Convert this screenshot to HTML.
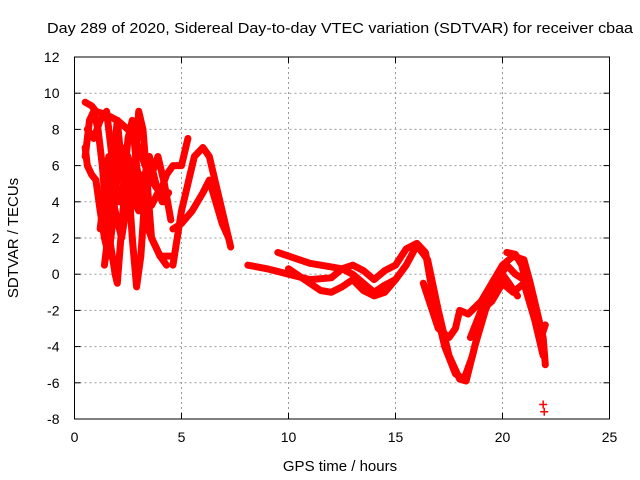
<!DOCTYPE html>
<html><head><meta charset="utf-8"><style>
body{margin:0;background:#fff;}
svg{display:block;font-family:"Liberation Sans",sans-serif;}
</style></head><body>
<svg id="chart" width="640" height="480">
<text x="340" y="33" font-size="15" text-anchor="middle" textLength="586" lengthAdjust="spacingAndGlyphs" fill="#000">Day 289 of 2020, Sidereal Day-to-day VTEC variation (SDTVAR) for receiver cbaa</text>
<text x="340" y="471" font-size="15" text-anchor="middle">GPS time / hours</text>
<text transform="translate(18,238) rotate(-90)" font-size="15" text-anchor="middle">SDTVAR / TECUs</text>
<g id="grid"></g><g id="ticks"></g><g id="marks"></g>
<rect x="74.5" y="57" width="535" height="362" fill="none" stroke="#000" stroke-width="1"/>
</svg>
<script>
const xTicks=[0,5,10,15,20,25];
const yTicks=[-8,-6,-4,-2,0,2,4,6,8,10,12];
const t1=[[0.5,9.5],[0.8,9.3],[1.0,9.0],[1.5,8.8],[2.0,8.5],[2.5,8.0],[3.0,7.0],[3.3,6.0],[3.7,5.0],[4.0,4.5],[4.3,5.5],[4.6,6.0],[5.0,6.0],[5.3,7.5]];
const t2=[[0.5,7.0],[0.6,6.0],[0.8,5.5],[1.0,5.2],[1.2,3.5],[1.4,2.0],[1.6,1.0],[1.8,3.0],[2.0,5.5],[2.2,7.0],[2.5,6.5],[2.8,5.0],[3.0,4.5],[3.3,3.0],[3.6,2.0],[4.0,1.0],[4.5,1.0]];
const t3=[[0.5,6.5],[0.7,8.5],[0.9,9.0],[1.1,8.0],[1.3,6.0],[1.5,3.0],[1.7,1.5],[1.9,0.0],[2.0,-0.5],[2.1,1.0],[2.3,4.0],[2.5,5.5],[2.7,2.0],[2.9,-0.7],[3.1,1.0],[3.3,4.5],[3.6,5.5],[3.9,6.5],[4.2,5.0],[4.5,3.0]];
const t4=[[1.4,0.5],[1.6,2.5],[1.8,6.0],[2.0,8.5],[2.2,6.0],[2.4,4.0],[2.6,3.5],[2.8,5.5],[3.0,9.0],[3.2,8.0],[3.4,5.0],[3.6,2.0],[3.8,1.5],[4.0,1.0],[4.3,0.5]];
const t4b=[[0.6,8.0],[0.9,7.5],[1.2,8.5],[1.5,9.0],[1.7,7.0],[1.9,5.0],[2.1,4.0],[2.3,5.0],[2.5,7.5],[2.7,8.5],[2.9,6.0],[3.1,4.5],[3.3,5.5],[3.5,6.5],[3.8,5.0],[4.1,4.0],[4.4,4.5]];
const t4c=[[1.2,2.5],[1.4,4.5],[1.6,6.5],[1.8,4.0],[2.0,3.0],[2.2,2.0],[2.4,3.5],[2.6,6.0],[2.8,4.0],[3.0,3.5],[3.2,5.5],[3.4,4.0],[3.6,3.8],[3.9,4.5],[4.2,4.0]];
const t5=[[4.6,0.5],[4.8,2.0],[5.0,3.5],[5.3,5.0],[5.6,6.5],[6.0,7.0],[6.3,6.5],[6.6,5.0],[6.9,3.5],[7.2,2.0]];
const t6=[[4.6,2.5],[5.0,2.8],[5.5,3.5],[6.0,4.5],[6.3,5.2],[6.6,4.0],[6.9,2.8],[7.2,2.0],[7.3,1.5]];
const t7=[[8.1,0.5],[9,0.3],[10,0.0],[11,-0.3],[12,-0.2],[12.5,0.3],[13,0.0],[13.5,-0.5],[14,-1.0],[14.5,-0.6],[15,-0.3]];
const t8=[[9.5,1.2],[10,1.0],[11,0.6],[12,0.4],[12.5,0.3],[13,0.5],[13.5,0.2],[14,-0.3],[14.5,0.2],[15,0.5],[15.5,1.4],[16,1.7],[16.4,1.2],[16.8,-1.5],[17.3,-4.0],[17.8,-5.5],[18.2,-5.8],[18.6,-4.5],[19.0,-2.5],[19.5,-0.8],[20.0,0.0],[20.3,-0.5],[20.7,-1.2]];
const t9=[[10,0.3],[11,-0.5],[11.5,-0.9],[12,-1.0],[12.5,-0.7],[13,-0.3],[13.5,-0.9],[14,-1.2],[14.5,-1.0],[15,-0.3],[15.5,0.5],[16,1.6],[16.5,0.8],[17,-2.0],[17.5,-4.5],[18,-5.8],[18.3,-5.9],[18.7,-4.0],[19.2,-2.0],[19.7,-0.5],[20.2,0.5],[20.6,0.0],[21.0,-0.3]];
const t10=[[16.3,-0.5],[17,-3],[17.5,-3.5],[17.8,-3.0],[18,-2.0],[18.4,-2.2],[19,-1.5],[19.5,-0.5],[20,0.5],[20.5,1.0],[21,0.8],[21.3,-0.5],[21.6,-2.0],[21.9,-3.5],[22,-5.0]];
const t11=[[20.2,1.2],[20.6,1.1],[20.9,0.5],[21.2,-1.0],[21.5,-2.0],[21.8,-3.5],[22,-2.8]];
const t12=[[18.5,-3.5],[19,-2.0],[19.5,-1.5],[20,-0.5],[20.5,-1.0],[21,-0.5],[21.5,-2.5],[21.9,-4.5]];
const tracks=[t1,t2,t3,t4,t4b,t4c,t5,t6,t7,t8,t9,t10,t11,t12];
const outliers=[[21.9,-7.2],[21.95,-7.6]];
const NS="http://www.w3.org/2000/svg";
const X0=74.5,X1=609.5,Y0=419,Y1=57;
function sx(v){return X0+(v-0)/(25-0)*(X1-X0);}
function sy(v){return Y0-(v+8)/(20)*(Y0-Y1);}
const grid=document.getElementById('grid'),ticks=document.getElementById('ticks'),marks=document.getElementById('marks');
function mk(tag,attrs,parent){const e=document.createElementNS(NS,tag);for(const k in attrs)e.setAttribute(k,attrs[k]);parent.appendChild(e);return e;}
xTicks.forEach(v=>{const x=sx(v);
 if(v>0&&v<25){const g=mk('line',{x1:x,x2:x,y1:Y1,y2:Y0,stroke:'#999','stroke-dasharray':'2,3'},grid);
 
 }
 const t=mk('text',{x:x,y:Y0+23,'font-size':14,'text-anchor':'middle'},ticks);t.textContent=v;
 
 
 mk('line',{x1:x,x2:x,y1:Y0,y2:Y0-6,stroke:'#000'},ticks);mk('line',{x1:x,x2:x,y1:Y1,y2:Y1+6,stroke:'#000'},ticks);});
yTicks.forEach(v=>{const y=sy(v);
 if(v>-8&&v<12){const g=mk('line',{x1:X0,x2:X1,y1:y,y2:y,stroke:'#999','stroke-dasharray':'2,3'},grid);
 
 }
 const t=mk('text',{x:X0-15,y:y+5,'font-size':14,'text-anchor':'end'},ticks);t.textContent=v;
 
 
 mk('line',{x1:X0,x2:X0+6,y1:y,y2:y,stroke:'#000'},ticks);mk('line',{x1:X1,x2:X1-6,y1:y,y2:y,stroke:'#000'},ticks);});
tracks.forEach(tr=>{const p=mk('polyline',{points:tr.map(d=>sx(d[0])+','+sy(d[1])).join(' '),fill:'none',stroke:'#f00','stroke-width':7,'stroke-linejoin':'round','stroke-linecap':'round'},marks);
 
 });
outliers.forEach(d=>{const x=sx(d[0]),y=sy(d[1]);
 const p=mk('path',{d:`M${x-4},${y}H${x+4}M${x},${y-4}V${y+4}`,stroke:'#f00','stroke-width':1.5},marks);
 
 });
</script>
</body></html>
